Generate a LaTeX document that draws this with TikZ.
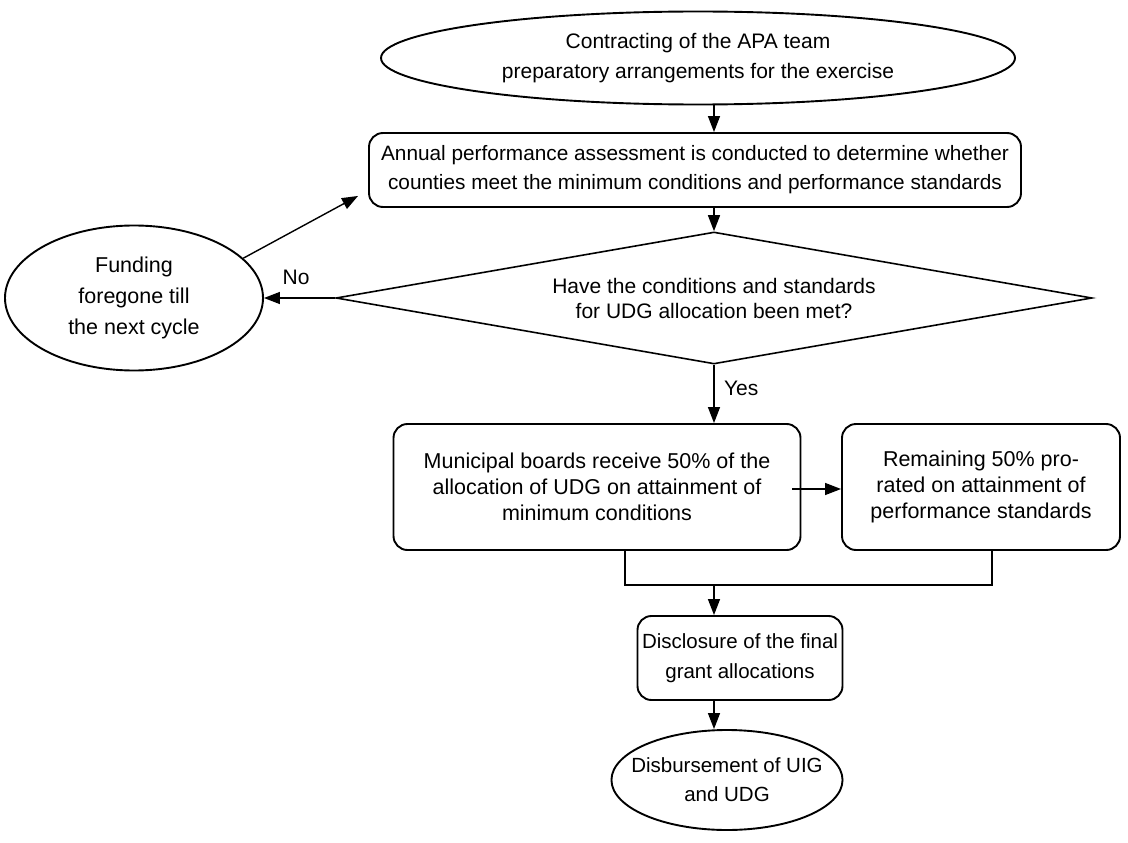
\documentclass[tikz,border=0pt]{standalone}
\usepackage{fontspec}
\setmainfont{Liberation Sans}
\usetikzlibrary{shapes.geometric,arrows.meta}

\begin{document}
\begin{tikzpicture}[x=1pt,y=1pt,
	oval/.style={ellipse,draw,line width=1.9pt,inner sep=0pt,align=center},
	stepbox/.style={rectangle,rounded corners=14pt,draw,line width=1.9pt,inner sep=0pt,align=center},
	arr/.style={line width=1.4pt,-{Triangle[length=16pt,width=12pt]}},
	link/.style={line width=1.3pt}]
	\begin{scope}[font=\fontsize{21}{27}\selectfont]
\useasboundingbox (0,0) rectangle (1128,-843);
\coordinate (col) at (714,0);

\node [oval,minimum width=634,minimum height=93,font=\fontsize{21}{30}\selectfont] (contract) at (698,-58) {Contracting of the APA team\\preparatory arrangements for the exercise};
\node [stepbox,minimum width=652,minimum height=74,font=\fontsize{20.8}{29}\selectfont] (assess) at (695,-170) {Annual performance assessment is conducted to determine whether\\counties meet the minimum conditions and performance standards};
\node [diamond,draw,line width=1.6pt,inner sep=0pt,shape aspect=5.8,minimum width=756,minimum height=132,align=center,font=\fontsize{21}{25}\selectfont] (decide) at (714,-298) {Have the conditions and standards\\for UDG allocation been met?};
\node [oval,minimum width=258,minimum height=145,font=\fontsize{21.5}{31}\selectfont] (fund) at (134,-298) {Funding\\foregone till\\the next cycle};
\node [stepbox,minimum width=407,minimum height=126,font=\fontsize{21.5}{26}\selectfont] (muni) at (597,-487) {Municipal boards receive 50\% of the\\allocation of UDG on attainment of\\minimum conditions};
\node [stepbox,minimum width=278,minimum height=126,font=\fontsize{21.5}{26}\selectfont] (remain) at (981,-487) {Remaining 50\% pro-\\rated on attainment of\\performance standards};
\node [stepbox,minimum width=205,minimum height=84,font=\fontsize{20.5}{30}\selectfont] (disclose) at (740,-658) {Disclosure of the final\\grant allocations};
\node [oval,inner xsep=-14pt,minimum width=231,minimum height=100,font=\fontsize{20.5}{29}\selectfont] (disburse) at (727,-780) {Disbursement of UIG\\and UDG};

\coordinate (joinL) at (625,-585);
\coordinate (joinR) at (992,-585);

\draw[arr] (contract.south -| col) -- (assess.north -| col);
\draw[arr] (assess.south -| col) -- (decide.north);
\draw[arr] (decide.west) -- node[above,pos=0.55,yshift=9pt]{No} (fund.east);
\draw[arr] (fund.20) -- ([shift={(-10pt,12pt)}]assess.south west);
\draw[arr] (decide.south) -- node[right,pos=0.4,xshift=6pt]{Yes} (decide.south |- muni.north);
\draw[arr] ([xshift=-9pt,yshift=-2pt]muni.east) -- ([yshift=-2pt]remain.west);
\draw[link] (muni.south -| joinL) -- (joinL) -- (joinR) -- (remain.south -| joinR);
\draw[arr] (joinL -| col) -- (disclose.north -| col);
\draw[arr] (disclose.south -| col) -- (disburse.north -| col);
	\end{scope}
\end{tikzpicture}
\end{document}
